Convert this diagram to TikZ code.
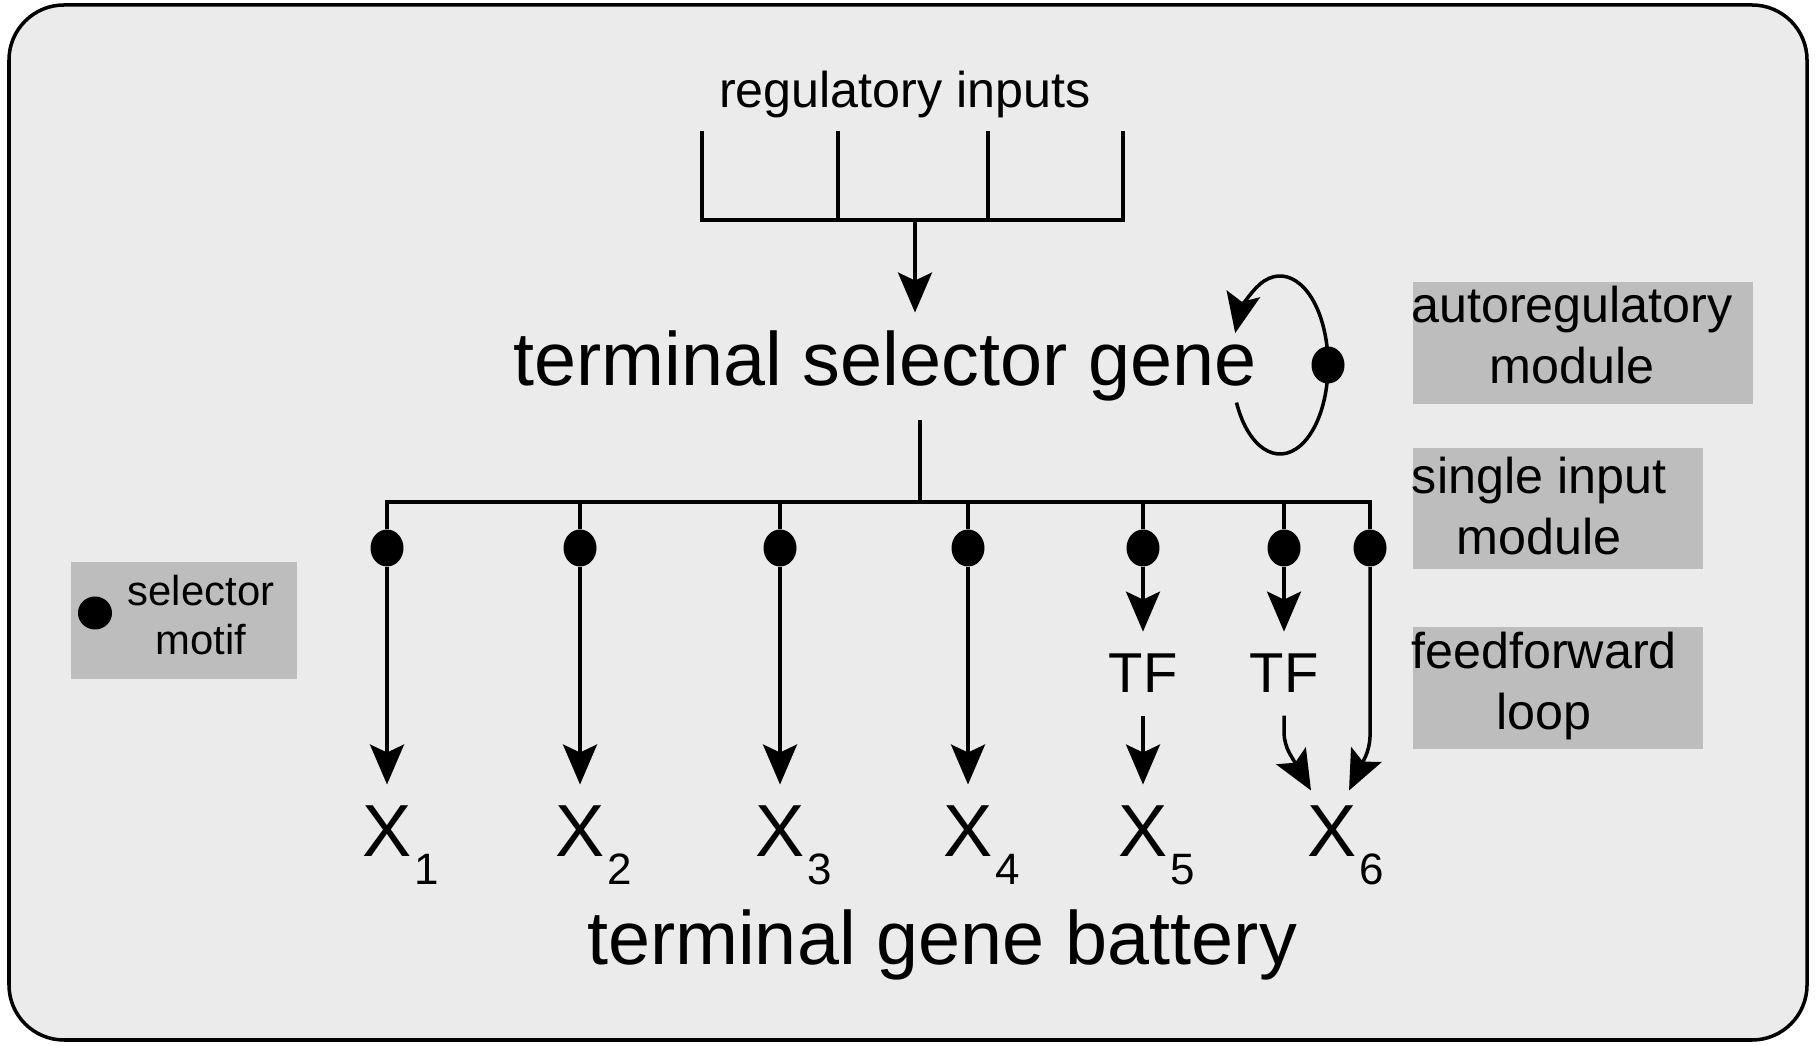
\documentclass[tikz,border=0pt]{standalone}
\usepackage{fontspec}
\setmainfont{Liberation Sans}
\usetikzlibrary{arrows.meta, positioning, calc, shapes.geometric}
\definecolor{Canvas}{HTML}{EBEBEB}
\definecolor{Panel}{HTML}{BDBDBD}
\definecolor{Ink}{HTML}{000000}
\newcommand{\gx}[1]{X\rlap{\kern0.3mm\raisebox{-2.8mm}{\fontsize{12.5}{14}\selectfont #1}}}

\begin{document}
\begin{tikzpicture}[>=Stealth,wire/.style={draw=Ink, line width=1pt},arr/.style={-{Stealth[length=4mm, width=3.4mm, inset=0.8mm]}, draw=Ink, line width=1pt},frame/.style={draw=Ink, fill=Canvas, rounded corners=0.55cm, line width=1pt},panel/.style={fill=Panel, inner sep=0pt},motif/.style={ellipse, fill=Ink, minimum width=3.3mm, minimum height=3.7mm, inner sep=0pt},bigtext/.style={font=\fontsize{21.5}{26}\selectfont, inner sep=1.8mm},boxtext/.style={font=\fontsize{14.3}{17.3}\selectfont, align=center, inner sep=0pt},smalltext/.style={font=\fontsize{11.9}{14}\selectfont, align=center, inner sep=0pt},genetext/.style={font=\fontsize{21}{25}\selectfont, inner sep=2mm},tftext/.style={font=\fontsize{16}{19}\selectfont, inner sep=2.2mm}]
\fill[white] (0,0) rectangle (18.19,10.45);
\draw[frame] (0.09,0.05) rectangle (18.07,10.40);
\node[boxtext, anchor=base] (reg) at (9.05,9.37) {regulatory inputs};
\coordinate (in1) at (7.02,9.14); \coordinate (in2) at (8.38,9.14); \coordinate (in3) at (9.88,9.14); \coordinate (in4) at (11.23,9.14);
\coordinate (barL) at (7.02,8.25); \coordinate (barR) at (11.23,8.25); \coordinate (hub) at (9.15,8.25);
\draw[wire] (in1) -- (barL) -- (barR) -- (in4);
\draw[wire] (in2) -- (in2 |- barL); \draw[wire] (in3) -- (in3 |- barL);
\node[bigtext, anchor=base] (tsg) at (8.85,6.59) {terminal selector gene};
\draw[arr] (hub) -- (hub |- tsg.north);
\coordinate (loopc) at (12.80,6.80);
\draw[arr] ($(loopc)+(-155:0.48 and 0.89)$) arc[start angle=-155, end angle=159, x radius=0.48, y radius=0.89];
\node[motif] (adot) at ($(loopc)+(0.48,0)$) {};
\coordinate (split) at (9.20,5.43);
\draw[wire] (split |- tsg.south) -- (split);
\foreach \n/\x in {1/3.87, 2/5.80, 3/7.80, 4/9.68, 5/11.43, 6/12.84, 7/13.70} \node[motif] (d\n) at (\x,4.97) {};
\draw[wire] (d1.north) |- (split) -| (d7.north);
\foreach \n in {2,...,6} \draw[wire] (d\n |- split) -- (d\n);
\foreach \n/\x in {1/3.87, 2/5.80, 3/7.80, 4/9.68, 5/11.43, 6/13.32} \node[genetext, anchor=base] (x\n) at (\x,1.89) {\gx{\n}};
\foreach \n in {1,...,4} \draw[arr] (d\n) -- (x\n);
\node[tftext, anchor=base] (tf5) at (11.43,3.52) {TF};
\node[tftext, anchor=base] (tf6) at (12.84,3.52) {TF};
\draw[arr] (d5) -- (tf5); \draw[arr] (tf5) -- (x5); \draw[arr] (d6) -- (tf6);
\draw[arr, rounded corners=3pt] (tf6.south) -- ++(0,-0.28) -- ($(x6.north)+(-0.21,-0.06)$);
\draw[arr, rounded corners=3pt] (d7.south) -- ++(0,-1.80) -- ($(x6.north)+(0.17,-0.06)$);
\node[bigtext, anchor=base] (tgb) at (9.42,0.80) {terminal gene battery};
\node[panel, minimum width=3.40cm, minimum height=1.22cm, anchor=north west] (autobox) at (14.12,7.64) {};
\node[boxtext] (autotxt) at (15.72,7.10) {autoregulatory\\module};
\node[panel, minimum width=2.90cm, minimum height=1.21cm, anchor=north west] (sibox) at (14.12,5.98) {};
\node[boxtext] (sitxt) at (15.39,5.39) {single input\\module};
\node[panel, minimum width=2.90cm, minimum height=1.22cm, anchor=north west] (fflbox) at (14.12,4.19) {};
\node[boxtext] (ffltxt) at (15.44,3.59) {feedforward\\loop};
\node[panel, minimum width=2.26cm, minimum height=1.17cm, anchor=north west] (selbox) at (0.70,4.84) {};
\node[motif, minimum width=3.4mm, minimum height=3.3mm] (seldot) at (0.95,4.32) {};
\node[smalltext] (seltxt) at (2.01,4.30) {selector\\motif};
\end{tikzpicture}
\end{document}
